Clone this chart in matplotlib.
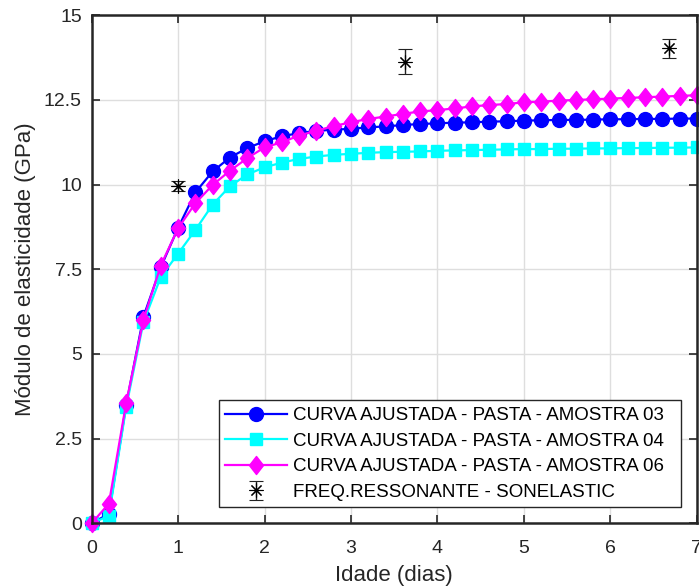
import numpy as np
import matplotlib
matplotlib.use("Agg")
import matplotlib.pyplot as plt
from matplotlib.path import Path

plt.rcParams['font.family'] = ['Liberation Sans', 'DejaVu Sans']

# idade em dias (pontos a cada 0.2 dia)
idade = np.round(np.arange(0, 7.01, 0.2), 1)

amostra_03 = [0.0, 0.28, 3.50, 6.10, 7.56, 8.72, 9.77, 10.39, 10.80, 11.08,
              11.28, 11.43, 11.52, 11.59, 11.62, 11.65, 11.69, 11.72, 11.76, 11.79,
              11.81, 11.83, 11.84, 11.86, 11.87, 11.89, 11.90, 11.91, 11.91, 11.92,
              11.93, 11.93, 11.94, 11.94, 11.95, 11.95]

amostra_04 = [0.0, 0.22, 3.43, 5.94, 7.27, 7.96, 8.66, 9.41, 9.95, 10.30,
              10.51, 10.65, 10.76, 10.83, 10.88, 10.91, 10.94, 10.96, 10.97, 10.98,
              11.00, 11.01, 11.02, 11.03, 11.04, 11.05, 11.05, 11.06, 11.06, 11.07,
              11.07, 11.08, 11.08, 11.09, 11.09, 11.10]

amostra_06 = [0.0, 0.58, 3.55, 6.01, 7.61, 8.71, 9.45, 9.99, 10.41, 10.78,
              11.10, 11.25, 11.45, 11.59, 11.73, 11.84, 11.94, 12.01, 12.09, 12.16,
              12.20, 12.25, 12.31, 12.35, 12.38, 12.43, 12.45, 12.48, 12.50, 12.52,
              12.54, 12.56, 12.58, 12.60, 12.62, 12.64]

# frequencia ressonante (Sonelastic)
idade_son = [1.0, 3.62, 6.68]
modulo_son = [9.96, 13.63, 14.02]
erro_son = [0.16, 0.36, 0.27]

rotulos = ['CURVA AJUSTADA - PASTA - AMOSTRA 03',
           'CURVA AJUSTADA - PASTA - AMOSTRA 04',
           'CURVA AJUSTADA - PASTA - AMOSTRA 06',
           'FREQ.RESSONANTE - SONELASTIC']

# losango no estilo do MATLAB (mais alto que largo)
losango = Path([(0, 1), (0.78, 0), (0, -1), (-0.78, 0), (0, 1)],
               [Path.MOVETO, Path.LINETO, Path.LINETO, Path.LINETO, Path.CLOSEPOLY])

fig = plt.figure(figsize=(6.99, 5.88), dpi=100)
ax = fig.add_axes([0.131, 0.110, 0.866, 0.864])

ax.plot(idade, amostra_03, '-o', color='#0000ff', lw=1.6, ms=10,
        clip_on=False, label=rotulos[0])
ax.plot(idade, amostra_04, '-s', color='#00ffff', lw=1.6, ms=9,
        clip_on=False, label=rotulos[1])
ax.plot(idade, amostra_06, '-', marker=losango, color='#ff00ff', lw=1.6, ms=13,
        clip_on=False, label=rotulos[2])
ax.errorbar(idade_son, modulo_son, yerr=erro_son, linestyle='none',
            marker=(8, 2, 0), color='black', ms=10, mew=0.8,
            ecolor='#222222', elinewidth=1.0, capsize=5, capthick=1.0,
            label=rotulos[3])

ax.set_xlim(0, 7)
ax.set_ylim(0, 15)
ax.set_xticks(range(0, 8))
ax.set_yticks([0, 2.5, 5, 7.5, 10, 12.5, 15])
ax.set_yticklabels(['0', '2.5', '5', '7.5', '10', '12.5', '15'])

ax.grid(True, color='#dedede', lw=1.0)
ax.set_axisbelow(True)
for s in ax.spines.values():
    s.set_linewidth(1.8)
    s.set_color('#262626')
ax.tick_params(direction='in', top=True, right=True, length=6, width=1.2,
               colors='#262626', labelsize=14)
ax.tick_params(axis='x', pad=12)
ax.tick_params(axis='y', pad=7)

ax.set_xlabel('Idade (dias)', fontsize=16, color='#262626', labelpad=6)
ax.set_ylabel('Módulo de elasticidade (GPa)', fontsize=16, color='#262626', labelpad=6)

leg = ax.legend([l + '  ' for l in rotulos], loc='lower right', fontsize=13.5,
                fancybox=False, framealpha=1, edgecolor='#262626',
                handlelength=3.3, handletextpad=0.3, labelspacing=0.45,
                borderpad=0.35, borderaxespad=0.85)
leg.get_frame().set_linewidth(1.0)

plt.savefig('out.png', dpi=100)
